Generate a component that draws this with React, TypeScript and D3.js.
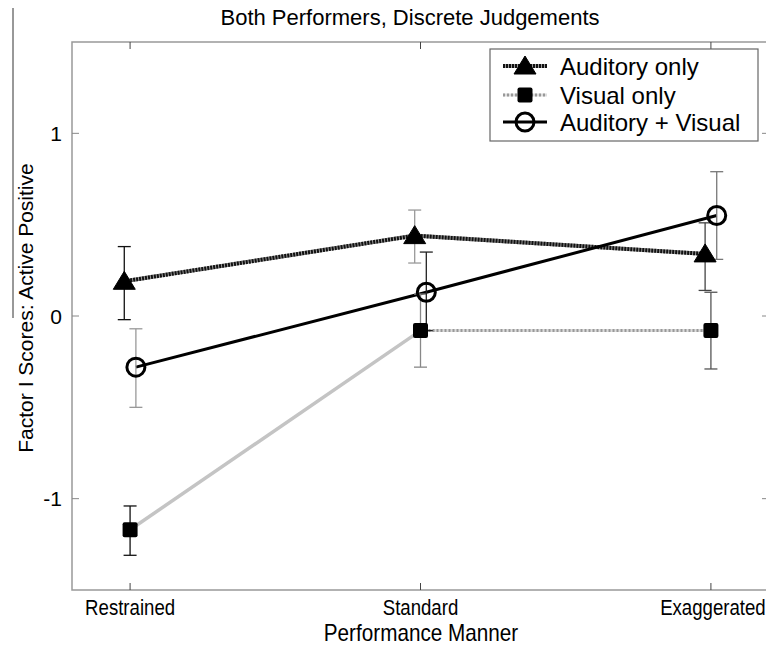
import React from "react";
import * as d3 from "d3";

const categories = ["Restrained", "Standard", "Exaggerated"];
const yTicks = [-1, 0, 1];

const auditoryMean = [0.19, 0.44, 0.34];
const auditoryLow = [-0.02, 0.29, 0.14];
const auditoryHigh = [0.38, 0.58, 0.51];

const visualMean = [-1.17, -0.08, -0.08];
const visualLow = [-1.31, -0.28, -0.29];
const visualHigh = [-1.04, 0.12, 0.13];

const avMean = [-0.28, 0.13, 0.55];
const avLow = [-0.5, -0.08, 0.31];
const avHigh = [-0.07, 0.35, 0.79];

const W = 766;
const H = 645;
const FONT = "'Liberation Sans', Arial, Helvetica, sans-serif";

const x = d3.scaleLinear().domain([0.8, 3.2]).range([72, 769]);
const y = d3.scaleLinear().domain([-1.5, 1.5]).range([590, 42]);

type Series = {
  name: string;
  mean: number[];
  low: number[];
  high: number[];
  offset: number;
  errColors: string[];
  marker: "triangle" | "square" | "circle";
};

const series: Series[] = [
  { name: "Auditory only", mean: auditoryMean, low: auditoryLow, high: auditoryHigh, offset: -0.02, errColors: ["#111", "#999", "#444"], marker: "triangle" },
  { name: "Visual only", mean: visualMean, low: visualLow, high: visualHigh, offset: 0, errColors: ["#111", "#888", "#555"], marker: "square" },
  { name: "Auditory + Visual", mean: avMean, low: avLow, high: avHigh, offset: 0.02, errColors: ["#999", "#222", "#777"], marker: "circle" },
];

function Marker({ kind, cx, cy }: { kind: string; cx: number; cy: number }) {
  if (kind === "triangle") {
    const w = 11, h = 10;
    return <path d={`M${cx},${cy - h} L${cx + w},${cy + 8} L${cx - w},${cy + 8} Z`} fill="#000" stroke="#000" strokeWidth={1} strokeLinejoin="round" />;
  }
  if (kind === "square") {
    return <rect x={cx - 7.5} y={cy - 7.5} width={15} height={15} rx={2} fill="#000" />;
  }
  return <circle cx={cx} cy={cy} r={9} fill="none" stroke="#000" strokeWidth={3} />;
}

function SeriesLine({ s, idx }: { s: Series; idx: number }) {
  const pts: [number, number][] = s.mean.map((m, i) => [x(i + 1 + s.offset), y(m)]);
  const line = d3.line();
  if (idx === 0) {
    return (
      <g>
        <path d={line(pts) || ""} fill="none" stroke="#999" strokeWidth={4} />
        <path d={line(pts) || ""} fill="none" stroke="#111" strokeWidth={4} strokeDasharray="2 1" />
      </g>
    );
  }
  if (idx === 1) {
    return (
      <g>
        <path d={line(pts.slice(0, 2)) || ""} fill="none" stroke="#c4c4c4" strokeWidth={3.5} />
        <path d={line(pts.slice(1, 3)) || ""} fill="none" stroke="#ddd" strokeWidth={3} />
        <path d={line(pts.slice(1, 3)) || ""} fill="none" stroke="#999" strokeWidth={3} strokeDasharray="2 2" />
      </g>
    );
  }
  return <path d={line(pts) || ""} fill="none" stroke="#000" strokeWidth={3} />;
}

function LegendSample({ idx, x0, x1, cy }: { idx: number; x0: number; x1: number; cy: number }) {
  if (idx === 0) {
    return (
      <g>
        <line x1={x0} x2={x1} y1={cy} y2={cy} stroke="#999" strokeWidth={4} />
        <line x1={x0} x2={x1} y1={cy} y2={cy} stroke="#111" strokeWidth={4} strokeDasharray="2 1" />
      </g>
    );
  }
  if (idx === 1) {
    return (
      <g>
        <line x1={x0} x2={x1} y1={cy} y2={cy} stroke="#ddd" strokeWidth={3} />
        <line x1={x0} x2={x1} y1={cy} y2={cy} stroke="#999" strokeWidth={3} strokeDasharray="2 2" />
      </g>
    );
  }
  return <line x1={x0} x2={x1} y1={cy} y2={cy} stroke="#000" strokeWidth={3} />;
}

export default function App() {
  const [x0, x1] = x.range();
  const [y0, y1] = y.range();
  const cap = 6.5;
  const tickLen = 7;
  const legendRows = [66, 95, 122];
  return (
    <svg width={W} height={H} style={{ position: "absolute", left: 0, top: 0, background: "#fff" }} fontFamily={FONT}>
      <rect x={0} y={0} width={W} height={H} fill="#fff" />
      {/* stray line at left */}
      <line x1={13} x2={13} y1={8} y2={318} stroke="#333" strokeWidth={1} />

      {/* axes box */}
      <rect x={x0} y={y1} width={x1 - x0} height={y0 - y1} fill="none" stroke="#999" strokeWidth={1.5} />
      {yTicks.map((t) => (
        <g key={"y" + t}>
          <line x1={x0} x2={x0 + tickLen} y1={y(t)} y2={y(t)} stroke="#888" strokeWidth={1} />
          <line x1={x1} x2={x1 - tickLen} y1={y(t)} y2={y(t)} stroke="#888" strokeWidth={1} />
          <text x={62} y={y(t)} dy="0.36em" textAnchor="end" fontSize={21} fill="#000">{t}</text>
        </g>
      ))}
      {categories.map((c, i) => (
        <g key={c}>
          <line x1={x(i + 1)} x2={x(i + 1)} y1={y0} y2={y0 - tickLen} stroke="#444" strokeWidth={1} />
          <line x1={x(i + 1)} x2={x(i + 1)} y1={y1} y2={y1 + tickLen} stroke="#444" strokeWidth={1} />
          <text transform={`translate(${x(i + 1) + (i === 2 ? 2 : 0)},615) scale(0.81,1)`} textAnchor="middle" fontSize={23} fill="#000">{c}</text>
        </g>
      ))}

      {/* lines */}
      {series.map((s, idx) => <SeriesLine key={s.name} s={s} idx={idx} />)}

      {/* error bars */}
      {series.map((s) =>
        s.mean.map((m, i) => {
          const cx = x(i + 1 + s.offset);
          const col = s.errColors[i];
          return (
            <g key={s.name + i} stroke={col} strokeWidth={1.3}>
              <line x1={cx} x2={cx} y1={y(s.low[i])} y2={y(s.high[i])} />
              <line x1={cx - cap} x2={cx + cap} y1={y(s.low[i])} y2={y(s.low[i])} />
              <line x1={cx - cap} x2={cx + cap} y1={y(s.high[i])} y2={y(s.high[i])} />
            </g>
          );
        })
      )}

      {/* markers */}
      {series.map((s) =>
        s.mean.map((m, i) => <Marker key={s.name + "m" + i} kind={s.marker} cx={x(i + 1 + s.offset)} cy={y(m)} />)
      )}

      {/* titles */}
      <text x={410} y={25} textAnchor="middle" fontSize={22} fill="#000">Both Performers, Discrete Judgements</text>
      <text transform="translate(421,641) scale(0.9,1)" textAnchor="middle" fontSize={23} fill="#000">Performance Manner</text>
      <text transform={`translate(33,${308}) rotate(-90)`} textAnchor="middle" fontSize={21} fill="#000">Factor I Scores: Active Positive</text>

      {/* legend */}
      <rect x={490} y={49} width={268} height={92} fill="#fff" stroke="#666" strokeWidth={1.2} />
      {series.map((s, idx) => (
        <g key={"leg" + s.name}>
          <LegendSample idx={idx} x0={503} x1={547} cy={legendRows[idx]} />
          <Marker kind={s.marker} cx={525} cy={legendRows[idx]} />
          <text x={560} y={legendRows[idx]} dy="0.36em" fontSize={24} fill="#000">{s.name}</text>
        </g>
      ))}
    </svg>
  );
}
